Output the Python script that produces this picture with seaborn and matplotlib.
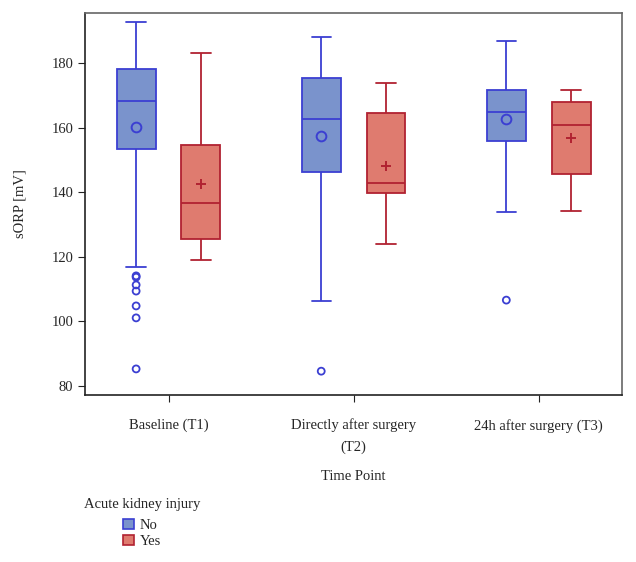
import numpy as np
import pandas as pd
import matplotlib
matplotlib.use("Agg")
import matplotlib.pyplot as plt
from matplotlib.patches import Patch
import seaborn as sns

# categories
time_points = ["Baseline (T1)", "Directly after surgery\n(T2)", "24h after surgery (T3)"]
groups = ["No", "Yes"]

# box summaries (whisker low, q1, median, q3, whisker high)
no_whislo = [116.8, 106.3, 133.9]
no_q1 = [153.4, 146.3, 155.9]
no_med = [168.2, 162.7, 164.8]
no_q3 = [178.1, 175.4, 171.6]
no_whishi = [192.7, 188.0, 186.8]
no_mean = [160.2, 157.4, 162.7]

yes_whislo = [119.0, 124.0, 134.2]
yes_q1 = [125.5, 139.7, 145.6]
yes_med = [136.7, 142.8, 160.8]
yes_q3 = [154.6, 164.5, 167.9]
yes_whishi = [183.1, 173.8, 171.6]
yes_mean = [142.5, 148.1, 156.8]

# outliers (only the "No" group has them)
no_outliers = [
    [114.1, 113.7, 111.3, 109.4, 104.8, 101.1, 85.3],
    [84.6],
    [106.6],
]

fill = {"No": "#7a93cc", "Yes": "#df7b6f"}
edge = {"No": "#3b3fd2", "Yes": "#b12231"}

BOX_WIDTH = 0.7  # total width of a dodged pair


def summary_frame():
    rows = []
    sets = {
        "No": [no_whislo, no_q1, no_med, no_q3, no_whishi],
        "Yes": [yes_whislo, yes_q1, yes_med, yes_q3, yes_whishi],
    }
    for g, cols in sets.items():
        for i, tp in enumerate(time_points):
            for col in cols:
                rows.append({"Time Point": tp, "AKI": g, "sORP": col[i]})
    return pd.DataFrame(rows)


def main():
    sns.set_style("ticks")
    plt.rcParams["font.family"] = ["Liberation Serif", "DejaVu Serif"]

    fig = plt.figure(figsize=(6.36, 5.62), dpi=100)
    ax = fig.add_axes([0.134, 0.297, 0.844, 0.680])

    box_df = summary_frame()
    for g in groups:
        sns.boxplot(data=box_df[box_df["AKI"] == g], x="Time Point", y="sORP", hue="AKI",
                    order=time_points, hue_order=groups, palette=fill, saturation=1,
                    dodge=True, width=BOX_WIDTH, gap=0.4, whis=(0, 100),
                    linecolor=edge[g], linewidth=1.3, legend=False, ax=ax)

    # outliers
    out_df = pd.DataFrame([{"Time Point": tp, "AKI": "No", "sORP": v}
                           for tp, vals in zip(time_points, no_outliers) for v in vals])
    n0 = len(ax.collections)
    sns.stripplot(data=out_df, x="Time Point", y="sORP", hue="AKI", order=time_points,
                  hue_order=groups, dodge=True, jitter=False, size=5, legend=False, ax=ax)
    for c in ax.collections[n0:]:
        # stripplot dodges with a fixed width of 0.8; pull the points onto the boxes
        off = c.get_offsets()
        centre = np.round(off[:, 0])
        off[:, 0] = centre + (off[:, 0] - centre) * BOX_WIDTH / 0.8
        c.set_offsets(off)
        c.set_facecolor("none")
        c.set_edgecolor(edge["No"])
        c.set_linewidth(1.3)

    # means
    mean_df = pd.DataFrame(
        [{"Time Point": tp, "AKI": "No", "sORP": v} for tp, v in zip(time_points, no_mean)]
        + [{"Time Point": tp, "AKI": "Yes", "sORP": v} for tp, v in zip(time_points, yes_mean)])
    sns.pointplot(data=mean_df, x="Time Point", y="sORP", hue="AKI", order=time_points,
                  hue_order=groups, palette=edge, dodge=BOX_WIDTH / 2, errorbar=None,
                  linestyle="none", markers=["o", "+"], markersize=7, markeredgewidth=1.4,
                  markerfacecolor="none", legend=False, ax=ax)

    ax.set_xlim(-0.45, 2.45)
    ax.set_ylim(77.2, 195.5)
    ax.set_yticks([80, 100, 120, 140, 160, 180])
    ax.set_xticks(range(len(time_points)))
    ax.set_xticklabels(time_points, linespacing=1.75)
    ax.tick_params(axis="both", labelsize=10.5, direction="out", length=5, color="#222222")
    ax.tick_params(axis="x", pad=12)
    for s in ax.spines.values():
        s.set_visible(True)
        s.set_linewidth(1.2)
        s.set_color("#222222")
    ax.spines["top"].set_color("#666666")
    ax.spines["right"].set_color("#666666")

    ax.set_xlabel("Time Point", fontsize=10.5, labelpad=12)
    ax.set_ylabel("sORP [mV]", fontsize=10.5, labelpad=18)

    fig.text(0.132, 0.103, "Acute kidney injury", fontsize=10.5, va="center", ha="left")
    handles = [Patch(facecolor=fill[g], edgecolor=edge[g], linewidth=1.2, label=g) for g in groups]
    fig.legend(handles=handles, loc="upper left", bbox_to_anchor=(0.194, 0.077), frameon=False,
               fontsize=10.5, handlelength=0.7, handleheight=0.7, handletextpad=0.4,
               labelspacing=0.2, borderpad=0, borderaxespad=0)

    fig.savefig("out.png", dpi=100)


if __name__ == "__main__":
    main()
